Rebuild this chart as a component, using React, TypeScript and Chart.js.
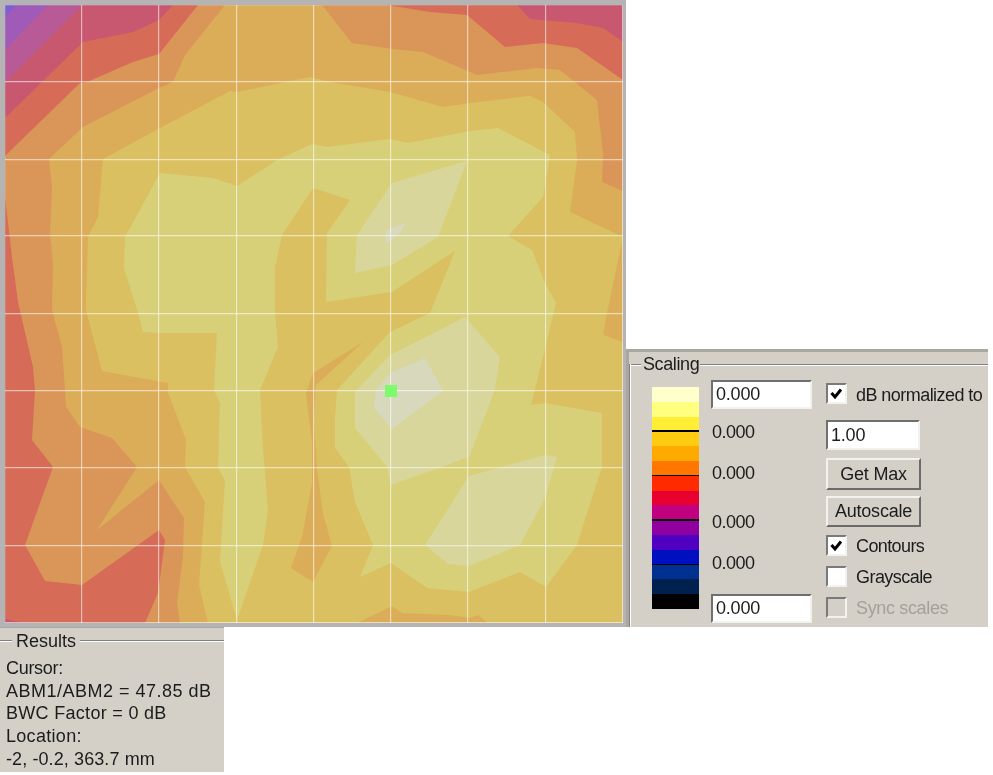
import React, { useEffect, useRef } from "react";
import { Chart, registerables } from "chart.js";
Chart.register(...registerables);

type Ring = number[][];
const AXIS_MIN = 5;
const AXIS_MAX = 623;
const xTicks = [5, 82, 159, 236.5, 313.5, 391, 468, 546, 623];
const yTicks = [5, 82, 159.5, 236, 314, 391, 468, 546, 623];

const base: Ring = [[5, 5], [623, 5], [623, 623], [5, 623]];
const levelA: Ring = [[5, 5], [16, 5], [5, 17]];
const levelB: Ring = [[5, 5], [48, 5], [5, 50]];
const levelC: Ring = [[5, 5], [82, 5], [5, 82]];
const levelDLeft: Ring = [[5, 5], [173, 5], [159, 20], [133, 32], [83, 42], [5, 118]];
const levelDRight: Ring = [[517, 5], [530, 19], [577, 23], [603, 28], [623, 42], [623, 5]];
const levelDBottom: Ring = [[5, 623], [25, 623], [5, 619]];
const levelF: Ring = [[198, 5], [159, 54], [133, 62], [87, 82], [80, 83], [5, 156], [5, 197], [12, 257], [18, 302], [33, 367], [35, 390], [32, 440], [53, 467], [25, 545], [45, 581], [82, 585], [159, 530], [165, 540], [158, 593], [145, 623], [623, 623], [623, 80], [577, 48], [543, 43], [505, 47], [467, 15], [430, 12], [387, 5]];
const levelG: Ring = [[225, 5], [185, 55], [173, 82], [159, 88], [83, 127], [49, 159], [52, 187], [50, 233], [53, 267], [52, 310], [62, 347], [65, 390], [66, 407], [80, 427], [112, 438], [137, 467], [97, 530], [159, 480], [184, 518], [183, 557], [177, 603], [180, 623], [623, 623], [623, 191], [602, 182], [603, 153], [597, 100], [560, 70], [537, 68], [477, 75], [423, 52], [392, 49], [352, 43], [322, 5]];
const levelH: Ring = [[103, 159], [160, 128], [230, 91], [237, 92], [310, 77], [330, 82], [390, 92], [443, 107], [470, 103], [530, 96], [543, 102], [575, 132], [577, 160], [570, 212], [623, 237], [607, 313], [603, 335], [623, 342], [623, 623], [208, 623], [199, 585], [205, 502], [185, 467], [186, 440], [167, 390], [168, 383], [102, 371], [86, 310], [86, 300], [88, 237], [98, 217]];
const levelGWedge: Ring = [[363, 342], [313, 373], [306, 393], [312, 443], [312, 483], [302, 537], [291, 568], [313, 582], [332, 546], [323, 513], [317, 470], [314, 420], [316, 385]];
const levelGStrip: Ring = [[357, 623], [392, 606], [402, 613], [450, 615], [470, 618], [478, 615], [488, 623]];
const levelI: Ring = [[125, 237], [160, 173], [213, 178], [237, 186], [277, 160], [312, 144], [327, 147], [390, 139], [408, 143], [470, 131], [498, 128], [550, 155], [543, 197], [508, 236], [532, 250], [545, 283], [556, 303], [543, 357], [531, 405], [545, 403], [602, 413], [602, 467], [587, 513], [577, 545], [546, 587], [520, 572], [469, 592], [427, 588], [391, 563], [360, 577], [373, 545], [355, 502], [349, 467], [335, 448], [335, 417], [337, 390], [390, 332], [430, 313], [455, 251], [392, 292], [326, 302], [327, 233], [350, 200], [313, 188], [282, 235], [275, 267], [275, 310], [278, 347], [260, 390], [263, 450], [268, 510], [263, 545], [237, 620], [220, 562], [225, 480], [218, 468], [220, 403], [214, 390], [217, 333], [159, 333], [143, 332], [138, 313], [124, 268]];
const levelJTop: Ring = [[467, 161], [392, 183], [357, 235], [355, 273], [392, 265], [438, 237]];
const levelJMid: Ring = [[465, 317], [500, 357], [495, 390], [469, 457], [391, 485], [387, 467], [355, 428], [355, 392], [390, 355]];
const levelJLow: Ring = [[557, 457], [545, 455], [469, 476], [425, 545], [448, 564], [469, 566], [520, 545], [545, 498]];
const levelKTop: Ring = [[406, 223], [390, 228], [385, 233], [386, 244], [400, 233]];
const levelKMid: Ring = [[425, 358], [443, 391], [392, 429], [374, 408], [376, 390], [392, 372]];
const cursorPoint: Ring = [[391, 391]];

const contourLayers: [Ring, string][] = [
  [base, "#d66b58"],
  [levelDLeft, "#c8586f"],
  [levelDRight, "#c8586f"],
  [levelDBottom, "#c8586f"],
  [levelC, "#b85a98"],
  [levelB, "#a05ab8"],
  [levelA, "#7f5fd0"],
  [levelF, "#da9658"],
  [levelG, "#dbad58"],
  [levelH, "#dac060"],
  [levelGWedge, "#dbad58"],
  [levelGStrip, "#dbad58"],
  [levelI, "#d8d078"],
  [levelJTop, "#d8d69a"],
  [levelJMid, "#d8d69a"],
  [levelJLow, "#d8d69a"],
  [levelKTop, "#d8d8bc"],
  [levelKMid, "#d8d8bc"],
];

const scaleColours = ["#ffffcc", "#ffff80", "#ffee33", "#ffcc11", "#ffaa00", "#ff7700", "#ff2a00", "#e80030", "#c00080", "#9000a0", "#5000c0", "#0010c0", "#003090", "#002050", "#000000"];
const scaleLineAfter = [2, 5, 8, 11];
const scaleTickLabels: [string, number][] = [["0.000", 432], ["0.000", 473], ["0.000", 522], ["0.000", 563]];
const resultLines: [string, number, number][] = [["Cursor:", 668, -0.3], ["ABM1/ABM2 = 47.85 dB", 691, 0.5], ["BWC Factor = 0 dB", 713, 0.3], ["Location:", 736, 0.3], ["-2, -0.2, 363.7 mm", 759, 0.1]];

const FONT = '"Liberation Sans", Arial, sans-serif';
const FACE = "#d4d0c8";
const abs = (left: number, top: number, width: number, height: number): React.CSSProperties => ({ position: "absolute", left, top, width, height, boxSizing: "border-box" });

function Label({ x, cy, children, color = "#1c1c1c", size = 18, ls = 0 }: { x: number; cy: number; children: React.ReactNode; color?: string; size?: number; ls?: number }) {
  return <div style={{ position: "absolute", left: x, top: cy - 12, height: 24, lineHeight: "24px", fontFamily: FONT, fontSize: size, letterSpacing: ls, color, whiteSpace: "nowrap" }}>{children}</div>;
}
function Field({ x, y, w, h, text }: { x: number; y: number; w: number; h: number; text: string }) {
  return (
    <div style={{ ...abs(x, y, w, h), background: "#fff", borderStyle: "solid", borderWidth: 2, borderColor: "#6f6f6f #f4f2ee #f4f2ee #6f6f6f" }}>
      <div style={{ position: "absolute", left: 3, top: 0, bottom: 0, display: "flex", alignItems: "center", fontFamily: FONT, fontSize: 18, letterSpacing: -0.2, color: "#1c1c1c" }}>{text}</div>
    </div>
  );
}
function Btn({ y, h, text }: { y: number; h: number; text: string }) {
  return (
    <div style={{ ...abs(826, y, 95, h), background: FACE, borderStyle: "solid", borderWidth: 2, borderColor: "#f4f2ee #6a6a6a #6a6a6a #f4f2ee", display: "flex", alignItems: "center", justifyContent: "center", fontFamily: FONT, fontSize: 18, letterSpacing: -0.2, color: "#1c1c1c" }}>{text}</div>
  );
}
function Check({ y, on, disabled }: { y: number; on?: boolean; disabled?: boolean }) {
  return (
    <div style={{ ...abs(826, y, 21, 21), background: disabled ? FACE : "#fff", borderStyle: "solid", borderWidth: 2, borderColor: "#7a7a7a #f4f2ee #f4f2ee #7a7a7a" }}>
      {on ? <svg width="17" height="17" viewBox="0 0 17 17" style={{ display: "block" }}><path d="M3.5 8 L7 12 L13 4.5" fill="none" stroke="#000" strokeWidth="3" /></svg> : null}
    </div>
  );
}

const cursorOnTop = {
  id: "cursorOnTop",
  afterDraw(chart: any) {
    chart.getDatasetMeta(0).data.forEach((el: any) => el.draw(chart.ctx));
  },
};

export default function App() {
  const ref = useRef<HTMLCanvasElement>(null);
  useEffect(() => {
    const toPts = (r: Ring) => r.map(([x, y]) => ({ x, y }));
    const grid = { color: "rgba(255,255,255,0.56)", lineWidth: 1.2, drawTicks: false, z: 1 };
    const chart = new Chart(ref.current!, {
      type: "scatter",
      plugins: [cursorOnTop],
      data: {
        datasets: [
          { type: "scatter", data: toPts(cursorPoint), pointStyle: "rect", pointRadius: 8.5, pointBackgroundColor: "#7cfb6c", pointBorderWidth: 0, order: -100 } as any,
          ...contourLayers.map(([ring, color], i) => ({
            type: "line",
            data: toPts(ring),
            showLine: true,
            fill: "shape",
            backgroundColor: color,
            borderWidth: 0,
            pointRadius: 0,
            tension: 0,
            order: -i,
          })) as any[],
        ],
      },
      options: {
        animation: false,
        responsive: false,
        maintainAspectRatio: false,
        layout: { padding: 0, autoPadding: false },
        plugins: { legend: { display: false }, tooltip: { enabled: false } },
        scales: {
          x: { type: "linear", min: AXIS_MIN, max: AXIS_MAX, grid, border: { display: false }, ticks: { display: false }, afterBuildTicks: (s: any) => { s.ticks = xTicks.map((value) => ({ value })); } },
          y: { type: "linear", reverse: true, min: AXIS_MIN, max: AXIS_MAX, grid, border: { display: false }, ticks: { display: false }, afterBuildTicks: (s: any) => { s.ticks = yTicks.map((value) => ({ value })); } },
        },
      },
    } as any);
    return () => chart.destroy();
  }, []);

  const bandH = 222 / scaleColours.length;
  return (
    <div style={{ position: "absolute", left: 0, top: 0, width: 993, height: 775, background: "#fff", overflow: "hidden" }}>
      <div style={{ ...abs(0, 0, 626, 627), background: "#b4b4b4" }} />
      <canvas ref={ref} width={618} height={618} style={{ position: "absolute", left: 5, top: 5, width: 618, height: 618, filter: "blur(0.4px)" }} />

      <div style={{ ...abs(626, 349, 362, 278), background: FACE, filter: "blur(0.35px)" }}>
        <div style={{ ...abs(0, 0, 362, 3), background: "#a9a7a1" }} />
        <div style={{ ...abs(0, 0, 3, 278), background: "#a9a7a1" }} />
        <div style={{ ...abs(3, 15, 12, 1), background: "#808080" }} />
        <div style={{ ...abs(3, 16, 12, 1), background: "#fff" }} />
        <div style={{ ...abs(74, 15, 288, 1), background: "#808080" }} />
        <div style={{ ...abs(74, 16, 288, 1), background: "#fff" }} />
        <div style={{ ...abs(3, 15, 1, 263), background: "#808080" }} />
        <div style={{ ...abs(4, 15, 1, 263), background: "#fff" }} />
      </div>
      <div style={{ position: "absolute", inset: 0, filter: "blur(0.35px)" }}>
        <Label x={643} cy={364} ls={-0.4}>Scaling</Label>
        {scaleColours.map((c, i) => (
          <div key={i} style={{ ...abs(652, 387 + i * bandH, 47, bandH + 0.5), background: c }} />
        ))}
        {scaleLineAfter.map((i) => (
          <div key={i} style={{ ...abs(652, 387 + (i + 1) * bandH - 1, 47, 1.5), background: "#000" }} />
        ))}
        <Field x={711} y={380} w={101} h={29} text="0.000" />
        <Field x={711} y={594} w={101} h={29} text="0.000" />
        {scaleTickLabels.map(([t, cy], i) => <Label key={i} x={712} cy={cy} ls={-0.5}>{t}</Label>)}
        <Check y={383} on />
        <Label x={856} cy={395} ls={-0.55}>dB normalized to</Label>
        <Field x={826} y={420} w={94} h={30} text="1.00" />
        <Btn y={458} h={32} text="Get Max" />
        <Btn y={496} h={31} text="Autoscale" />
        <Check y={535} on />
        <Label x={856} cy={546} ls={-0.6}>Contours</Label>
        <Check y={566} />
        <Label x={856} cy={577} ls={-0.55}>Grayscale</Label>
        <Check y={597} disabled />
        <Label x={856} cy={608} color="#a3a19b" ls={-0.35}>Sync scales</Label>

        <div style={{ ...abs(0, 627, 224, 145), background: FACE }}>
          <div style={{ ...abs(0, 0, 224, 1), background: "#a9a7a1" }} />
          <div style={{ ...abs(0, 13, 12, 1), background: "#808080" }} />
          <div style={{ ...abs(0, 14, 12, 1), background: "#fff" }} />
          <div style={{ ...abs(80, 13, 144, 1), background: "#808080" }} />
          <div style={{ ...abs(80, 14, 144, 1), background: "#fff" }} />
        </div>
        <Label x={16} cy={641}>Results</Label>
        {resultLines.map(([t, cy, ls], i) => <Label key={i} x={6} cy={cy} ls={ls}>{t}</Label>)}
      </div>
    </div>
  );
}
